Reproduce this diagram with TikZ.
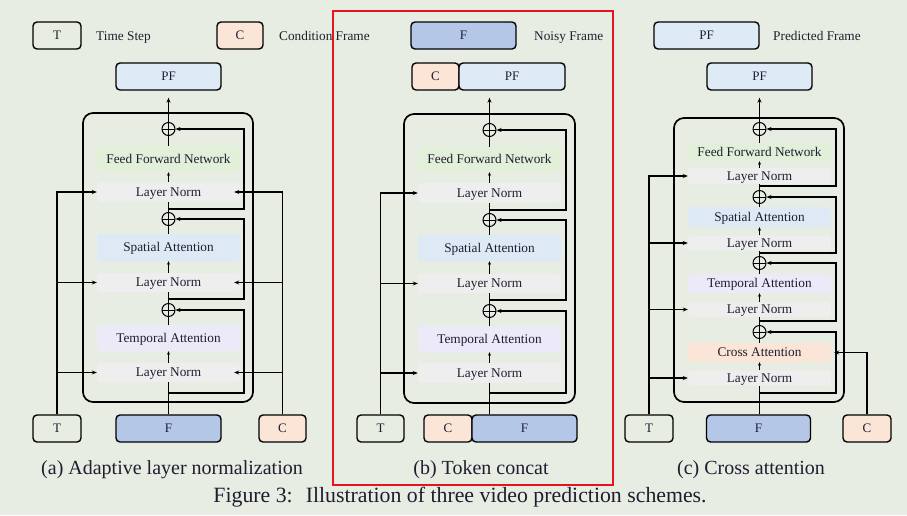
\documentclass[tikz,border=0pt]{standalone}
\usepackage{fontspec}
\setmainfont{Liberation Serif}
\usetikzlibrary{arrows.meta,calc}
\definecolor{bgc}{HTML}{E8EDE3}
\definecolor{txt}{HTML}{1E1E30}
\definecolor{lnc}{HTML}{EEEEEE}
\definecolor{ffnc}{HTML}{E2EFD9}
\definecolor{sac}{HTML}{DDEAF5}
\definecolor{tac}{HTML}{ECEAF9}
\definecolor{cac}{HTML}{FBE5D6}
\definecolor{pfc}{HTML}{DEEBF7}
\definecolor{fc}{HTML}{B4C7E7}
\definecolor{cc}{HTML}{FBE5D6}
\definecolor{redc}{HTML}{E8141C}
\begin{document}
\begin{tikzpicture}[x=1pt,y=-1pt,
  frame/.style={draw=black, line width=1.4pt, rounded corners=4pt, minimum height=27pt, inner sep=0pt, text=txt, font=\fontsize{13}{15}\selectfont, text height=8.6pt, text depth=0pt},
  blk/.style={rounded corners=3pt, minimum width=143pt, inner sep=0pt, text=txt, font=\fontsize{13.3}{15}\selectfont, text height=8.8pt, text depth=0pt},
  bigbox/.style={draw=black, line width=1.7pt, rounded corners=10pt, inner sep=0pt},
  op/.style={circle, draw=black, line width=1pt, minimum size=13pt, inner sep=0pt,
    path picture={\draw[line width=1pt] (path picture bounding box.north) -- (path picture bounding box.south) (path picture bounding box.west) -- (path picture bounding box.east);}},
  ln/.style={line width=1.3pt},
  arr/.style={ln, -{Stealth[length=5pt,width=4pt]}},
  sarr/.style={ln, -{Stealth[length=3.5pt,width=3pt]}},
  lbl/.style={text=txt, font=\fontsize{13.3}{15}\selectfont, anchor=base west, inner sep=0pt},
  captxt/.style={text=txt, font=\fontsize{20}{24}\selectfont, inner sep=0pt}
]
\useasboundingbox[fill=bgc] (0,0) rectangle (907,515);

% ---------- legend ----------
\node[frame, minimum width=48pt] (lT) at (57,35.5) {T};
\node[lbl] (lTt) at (96,40) {Time Step};
\node[frame, fill=cc, minimum width=46pt] (lC) at (240,35.5) {C};
\node[lbl] (lCt) at (279,40) {Condition Frame};
\node[frame, fill=fc, minimum width=105pt] (lF) at (463.5,35.5) {F};
\node[lbl] (lFt) at (534,40) {Noisy Frame};
\node[frame, fill=pfc, minimum width=105pt] (lPF) at (706.5,35.5) {PF};
\node[lbl] (lPFt) at (773,40) {Predicted Frame};

% ---------- red highlight ----------
\draw[draw=redc, line width=1.8pt] (333,11) rectangle (613,485);

% ---------- panel (a) ----------
\node[frame, fill=pfc, minimum width=105pt] (aPF) at (168.5,76.5) {PF};
\node[bigbox, minimum width=170pt, minimum height=289pt] (aBox) at (168,257.5) {};
\node[op] (aO1) at (168.5,129) {};
\node[blk, fill=ffnc, minimum height=26pt] (aFFN) at (168.5,159) {Feed Forward Network};
\node[blk, fill=lnc, minimum height=20pt] (aLN1) at (168.5,192) {Layer Norm};
\node[op] (aO2) at (168.5,219) {};
\node[blk, fill=sac, minimum height=27pt] (aSA) at (168.5,247.5) {Spatial Attention};
\node[blk, fill=lnc, minimum height=19pt] (aLN2) at (168.5,282.5) {Layer Norm};
\node[op] (aO3) at (168.5,310) {};
\node[blk, fill=tac, minimum height=26pt] (aTA) at (168.5,338) {Temporal Attention};
\node[blk, fill=lnc, minimum height=19pt] (aLN3) at (168.5,372.5) {Layer Norm};
\node[frame, minimum width=48pt] (aT) at (57,428.5) {T};
\node[frame, fill=fc, minimum width=105pt] (aF) at (168.5,428.5) {F};
\node[frame, fill=cc, minimum width=47pt] (aC) at (282.5,428.5) {C};

\draw[ln] (aF.north) -- (aLN3.south);
\draw[sarr] (aLN3.north) -- (aTA.south);
\draw[ln] (aTA.north) -- (aO3.south);
\draw[ln] (aO3.north) -- (aLN2.south);
\draw[sarr] (aLN2.north) -- (aSA.south);
\draw[ln] (aSA.north) -- (aO2.south);
\draw[ln] (aO2.north) -- (aLN1.south);
\draw[sarr] (aLN1.north) -- (aFFN.south);
\draw[ln] (aFFN.north) -- (aO1.south);
\draw[arr, shorten >=7pt] (aO1.north) -- (aPF.south);
\coordinate (aR1) at (168.5,209);
\coordinate (aR2) at (168.5,299);
\coordinate (aR3) at (168.5,393);
\draw[arr] (aR1) -- ++(75.5,0) |- (aO1.east);
\draw[arr] (aR2) -- ++(75.5,0) |- (aO2.east);
\draw[arr] (aR3) -- ++(75.5,0) |- (aO3.east);
\draw[arr] (aT.north) |- (aLN1.west);
\draw[arr] (aT.north |- aLN2.west) -- (aLN2.west);
\draw[arr] (aT.north |- aLN3.west) -- (aLN3.west);
\draw[arr, shorten >=-6pt] (aC.north) |- (aLN1.east);
\draw[arr, shorten >=-6pt] (aC.north |- aLN2.east) -- (aLN2.east);
\draw[arr, shorten >=-6pt] (aC.north |- aLN3.east) -- (aLN3.east);
\node[captxt] (aCap) at (172,469.5) {(a) Adaptive layer normalization};

% ---------- panel (b) ----------
\node[frame, fill=cc, minimum width=47pt] (bCt) at (435.5,76.5) {C};
\node[frame, fill=pfc, minimum width=106pt] (bPF) at (512,76.5) {PF};
\node[bigbox, minimum width=171pt, minimum height=289pt] (bBox) at (489.5,258.5) {};
\node[op] (bO1) at (489.5,130) {};
\node[blk, fill=ffnc, minimum height=25pt] (bFFN) at (489.5,159.5) {Feed Forward Network};
\node[blk, fill=lnc, minimum height=20pt] (bLN1) at (489.5,193) {Layer Norm};
\node[op] (bO2) at (489.5,220) {};
\node[blk, fill=sac, minimum height=26pt] (bSA) at (489.5,248) {Spatial Attention};
\node[blk, fill=lnc, minimum height=19pt] (bLN2) at (489.5,283.5) {Layer Norm};
\node[op] (bO3) at (489.5,311) {};
\node[blk, fill=tac, minimum height=26pt] (bTA) at (489.5,339) {Temporal Attention};
\node[blk, fill=lnc, minimum height=20pt] (bLN3) at (489.5,373) {Layer Norm};
\node[frame, minimum width=47pt] (bT) at (380.5,428.5) {T};
\node[frame, fill=cc, minimum width=48pt] (bC) at (448,428.5) {C};
\node[frame, fill=fc, minimum width=105pt] (bF) at (524.5,428.5) {F};

\draw[ln] (bF.north -| bLN3.south) -- (bLN3.south);
\draw[sarr] (bLN3.north) -- (bTA.south);
\draw[ln] (bTA.north) -- (bO3.south);
\draw[ln] (bO3.north) -- (bLN2.south);
\draw[sarr] (bLN2.north) -- (bSA.south);
\draw[ln] (bSA.north) -- (bO2.south);
\draw[ln] (bO2.north) -- (bLN1.south);
\draw[sarr] (bLN1.north) -- (bFFN.south);
\draw[ln] (bFFN.north) -- (bO1.south);
\draw[arr, shorten >=7pt] (bO1.north) -- (bPF.south -| bO1.north);
\coordinate (bR1) at (489.5,210);
\coordinate (bR2) at (489.5,300);
\coordinate (bR3) at (489.5,393);
\draw[arr] (bR1) -- ++(76.5,0) |- (bO1.east);
\draw[arr] (bR2) -- ++(76.5,0) |- (bO2.east);
\draw[arr] (bR3) -- ++(76.5,0) |- (bO3.east);
\draw[arr] (bT.north) |- (bLN1.west);
\draw[arr] (bT.north |- bLN2.west) -- (bLN2.west);
\draw[arr] (bT.north |- bLN3.west) -- (bLN3.west);
\node[captxt] (bCap) at (481,469.5) {(b) Token concat};

% ---------- panel (c) ----------
\node[frame, fill=pfc, minimum width=105pt] (cPF) at (759.5,76.5) {PF};
\node[bigbox, minimum width=170pt, minimum height=284pt] (cBox) at (759,260) {};
\node[op] (cO1) at (759.5,129) {};
\node[blk, fill=ffnc, minimum height=18pt] (cFFN) at (759.5,152) {Feed Forward Network};
\node[blk, fill=lnc, minimum height=16pt] (cLN1) at (759.5,176) {Layer Norm};
\node[op] (cO2) at (759.5,197) {};
\node[blk, fill=sac, minimum height=20pt] (cSA) at (759.5,217) {Spatial Attention};
\node[blk, fill=lnc, minimum height=15pt] (cLN2) at (759.5,243) {Layer Norm};
\node[op] (cO3) at (759.5,263) {};
\node[blk, fill=tac, minimum height=19pt] (cTA) at (759.5,283.5) {Temporal Attention};
\node[blk, fill=lnc, minimum height=15pt] (cLN3) at (759.5,309.5) {Layer Norm};
\node[op] (cO4) at (759.5,332) {};
\node[blk, fill=cac, minimum height=19pt] (cCA) at (759.5,352.5) {Cross Attention};
\node[blk, fill=lnc, minimum height=15pt] (cLN4) at (759.5,378) {Layer Norm};
\node[frame, minimum width=48pt] (cT) at (649,428.5) {T};
\node[frame, fill=fc, minimum width=104pt] (cF) at (758.5,428.5) {F};
\node[frame, fill=cc, minimum width=48pt] (cC) at (867,428.5) {C};

\draw[ln] (cF.north -| cLN4.south) -- (cLN4.south);
\draw[sarr] (cLN4.north) -- (cCA.south);
\draw[ln] (cCA.north) -- (cO4.south);
\draw[ln] (cO4.north) -- (cLN3.south);
\draw[sarr] (cLN3.north) -- (cTA.south);
\draw[ln] (cTA.north) -- (cO3.south);
\draw[ln] (cO3.north) -- (cLN2.south);
\draw[sarr] (cLN2.north) -- (cSA.south);
\draw[ln] (cSA.north) -- (cO2.south);
\draw[ln] (cO2.north) -- (cLN1.south);
\draw[sarr] (cLN1.north) -- (cFFN.south);
\draw[ln] (cFFN.north) -- (cO1.south);
\draw[arr, shorten >=7pt] (cO1.north) -- (cPF.south);
\coordinate (cR1) at (759.5,186);
\coordinate (cR2) at (759.5,253);
\coordinate (cR3) at (759.5,321);
\coordinate (cR4) at (759.5,393);
\draw[arr] (cR1) -- ++(76.5,0) |- (cO1.east);
\draw[arr] (cR2) -- ++(76.5,0) |- (cO2.east);
\draw[arr] (cR3) -- ++(76.5,0) |- (cO3.east);
\draw[arr] (cR4) -- ++(76.5,0) |- (cO4.east);
\draw[arr] (cT.north) |- (cLN1.west);
\draw[arr] (cT.north |- cLN2.west) -- (cLN2.west);
\draw[arr] (cT.north |- cLN3.west) -- (cLN3.west);
\draw[arr] (cT.north |- cLN4.west) -- (cLN4.west);
\draw[arr, shorten >=3pt] (cC.north) |- (cCA.east);
\node[captxt] (cCap) at (751,469.5) {(c) Cross attention};

% ---------- figure caption ----------
\node[captxt, font=\fontsize{21.8}{26}\selectfont] (fig) at (460,497) {Figure 3:\hspace{0.6em}Illustration of three video prediction schemes.};
\end{tikzpicture}
\end{document}
